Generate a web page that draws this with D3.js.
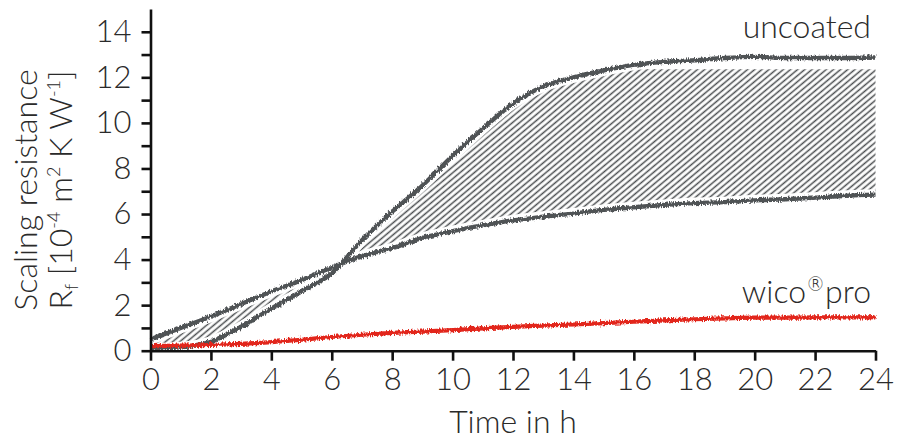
<!DOCTYPE html>
<html>
<head>
<meta charset="utf-8">
<script src="https://cdn.jsdelivr.net/npm/d3@7"></script>
<style>
  body { margin: 0; background: #fff; }
  text { font-family: Lato, "Open Sans", sans-serif; font-weight: 300; fill: #2a2a2a; }
</style>
</head>
<body>
<div id="chart"></div>
<script>
// values (hourly)
const hours = [0, 1, 2, 3, 4, 5, 6, 7, 8, 9, 10, 11, 12, 13, 14, 15, 16, 17, 18, 19, 20, 21, 22, 23, 24];
const uncoatedSlow = [0.5, 1.0, 1.5, 2.05, 2.6, 3.1, 3.65, 4.15, 4.5, 4.95, 5.25, 5.5, 5.72, 5.88, 6.02, 6.18, 6.3, 6.4, 6.48, 6.52, 6.6, 6.65, 6.72, 6.8, 6.85];
const uncoatedFast = [0.1, 0.15, 0.4, 1.05, 1.85, 2.6, 3.4, 4.85, 6.1, 7.25, 8.55, 9.75, 10.85, 11.6, 12.0, 12.3, 12.55, 12.68, 12.75, 12.85, 12.9, 12.85, 12.85, 12.85, 12.87];
const wicoPro = [0.2, 0.22, 0.25, 0.3, 0.38, 0.48, 0.6, 0.7, 0.78, 0.84, 0.9, 0.98, 1.05, 1.1, 1.15, 1.21, 1.27, 1.33, 1.38, 1.42, 1.45, 1.45, 1.46, 1.46, 1.47];
const hatchCap = 12.35;
const xTicks = [0, 2, 4, 6, 8, 10, 12, 14, 16, 18, 20, 22, 24];
const yTicks = [0, 1, 2, 3, 4, 5, 6, 7, 8, 9, 10, 11, 12, 13, 14];

const svgWidth = 907;
const svgHeight = 439;
const margins = { top: 9, right: 31.5, bottom: 88.3, left: 150.5 };
const chartWidth = svgWidth - margins.left - margins.right;
const chartHeight = svgHeight - margins.top - margins.bottom;

const svg = d3.select("#chart").append("svg")
    .attr("width", svgWidth)
    .attr("height", svgHeight);

const defs = svg.append("defs");
defs.append("pattern")
    .attr("id", "hatch")
    .attr("patternUnits", "userSpaceOnUse")
    .attr("width", 10)
    .attr("height", 4.6)
    .attr("patternTransform", "rotate(-40)")
  .append("line")
    .attr("x1", 0).attr("x2", 10)
    .attr("y1", 2.3).attr("y2", 2.3)
    .attr("stroke", "#4a4d50")
    .attr("stroke-width", 1.5);

// jitter to mimic the measurement noise
const rough = defs.append("filter")
    .attr("id", "rough")
    .attr("x", "-5%").attr("y", "-20%")
    .attr("width", "110%").attr("height", "140%");
rough.append("feTurbulence")
    .attr("type", "fractalNoise")
    .attr("baseFrequency", "0.9 0.25")
    .attr("numOctaves", 2)
    .attr("seed", 3)
    .attr("result", "noise");
rough.append("feDisplacementMap")
    .attr("in", "SourceGraphic")
    .attr("in2", "noise")
    .attr("scale", 5)
    .attr("xChannelSelector", "R")
    .attr("yChannelSelector", "G");

const chartGroup = svg.append("g")
    .attr("transform", `translate(${margins.left}, ${margins.top})`);

const xScale = d3.scaleLinear().domain([0, 24]).range([0, chartWidth]);
const yScale = d3.scaleLinear().domain([0, 15]).range([chartHeight, 0]);

const rows = hours.map((h, i) => ({ h: h, a: uncoatedSlow[i], b: uncoatedFast[i], w: wicoPro[i] }));

// hatched band between the two uncoated runs
const band = d3.area()
    .x(d => xScale(d.h))
    .y0(d => yScale(Math.min(d.a, d.b)))
    .y1(d => yScale(Math.min(Math.max(d.a, d.b), hatchCap)))
    .curve(d3.curveMonotoneX);

chartGroup.append("path")
    .datum(rows)
    .attr("d", band)
    .attr("fill", "url(#hatch)");

const lineA = d3.line().x(d => xScale(d.h)).y(d => yScale(d.a)).curve(d3.curveMonotoneX);
const lineB = d3.line().x(d => xScale(d.h)).y(d => yScale(d.b)).curve(d3.curveMonotoneX);
const lineW = d3.line().x(d => xScale(d.h)).y(d => yScale(d.w)).curve(d3.curveMonotoneX);

// white halo keeps a gap between hatch and curves
[lineA, lineB].forEach(gen => {
    chartGroup.append("path")
        .datum(rows)
        .attr("d", gen)
        .attr("fill", "none")
        .attr("stroke", "#fff")
        .attr("stroke-width", 11);
});
[lineA, lineB].forEach(gen => {
    chartGroup.append("path")
        .datum(rows)
        .attr("d", gen)
        .attr("fill", "none")
        .attr("stroke", "#4f5255")
        .attr("stroke-width", 4.4)
        .attr("filter", "url(#rough)");
});
chartGroup.append("path")
    .datum(rows)
    .attr("d", lineW)
    .attr("fill", "none")
    .attr("stroke", "#e2261a")
    .attr("stroke-width", 4.2)
    .attr("filter", "url(#rough)");

// axes
const bottomAxis = d3.axisBottom(xScale).tickValues(xTicks).tickSize(10).tickSizeOuter(0).tickPadding(8);
const leftAxis = d3.axisLeft(yScale).tickValues(yTicks).tickSize(9).tickSizeOuter(0).tickPadding(10)
    .tickFormat(d => d % 2 === 0 ? d : "");

const xAxis = chartGroup.append("g")
    .attr("transform", `translate(0, ${chartHeight})`)
    .call(bottomAxis);
const yAxis = chartGroup.append("g").call(leftAxis);

[xAxis, yAxis].forEach(ax => {
    ax.select(".domain").attr("stroke", "#111").attr("stroke-width", 2.6);
    ax.selectAll(".tick line").attr("stroke", "#111").attr("stroke-width", 2.6);
    ax.selectAll(".tick text")
        .attr("font-family", "Lato, 'Open Sans', sans-serif")
        .attr("font-size", 31)
        .attr("fill", "#2a2a2a");
});
xAxis.selectAll(".tick text").attr("dy", "0.7em");

// axis titles
svg.append("text")
    .attr("x", margins.left + chartWidth / 2)
    .attr("y", 433)
    .attr("text-anchor", "middle")
    .attr("font-size", 32)
    .text("Time in h");

const yTitle = svg.append("g")
    .attr("transform", "translate(0, 190) rotate(-90)");
yTitle.append("text")
    .attr("x", 0).attr("y", 37)
    .attr("text-anchor", "middle")
    .attr("font-size", 32)
    .text("Scaling resistance");
const t2 = yTitle.append("text")
    .attr("x", 0).attr("y", 72)
    .attr("text-anchor", "middle")
    .attr("font-size", 32);
t2.append("tspan").text("R");
t2.append("tspan").attr("font-size", 18).attr("dy", 6).text("f");
t2.append("tspan").attr("dy", -6).text(" [10");
t2.append("tspan").attr("font-size", 18).attr("dy", -12).text("-4");
t2.append("tspan").attr("dy", 12).text(" m");
t2.append("tspan").attr("font-size", 18).attr("dy", -12).text("2");
t2.append("tspan").attr("dy", 12).text(" K W");
t2.append("tspan").attr("font-size", 18).attr("dy", -12).text("-1");
t2.append("tspan").attr("dy", 12).text("]");

// series labels
svg.append("text")
    .attr("x", 871).attr("y", 38)
    .attr("text-anchor", "end")
    .attr("font-size", 32)
    .text("uncoated");
const wl = svg.append("text")
    .attr("x", 871).attr("y", 303)
    .attr("text-anchor", "end")
    .attr("font-size", 32);
wl.append("tspan").text("wico");
wl.append("tspan")
    .attr("font-size", 19)
    .attr("dy", -12)
    .attr("font-family", "'DejaVu Sans', sans-serif")
    .attr("fill", "#2a2a2a")
    .text("\u00AE\uFE0E");
wl.append("tspan").attr("dy", 12).text("pro");
</script>
</body>
</html>
